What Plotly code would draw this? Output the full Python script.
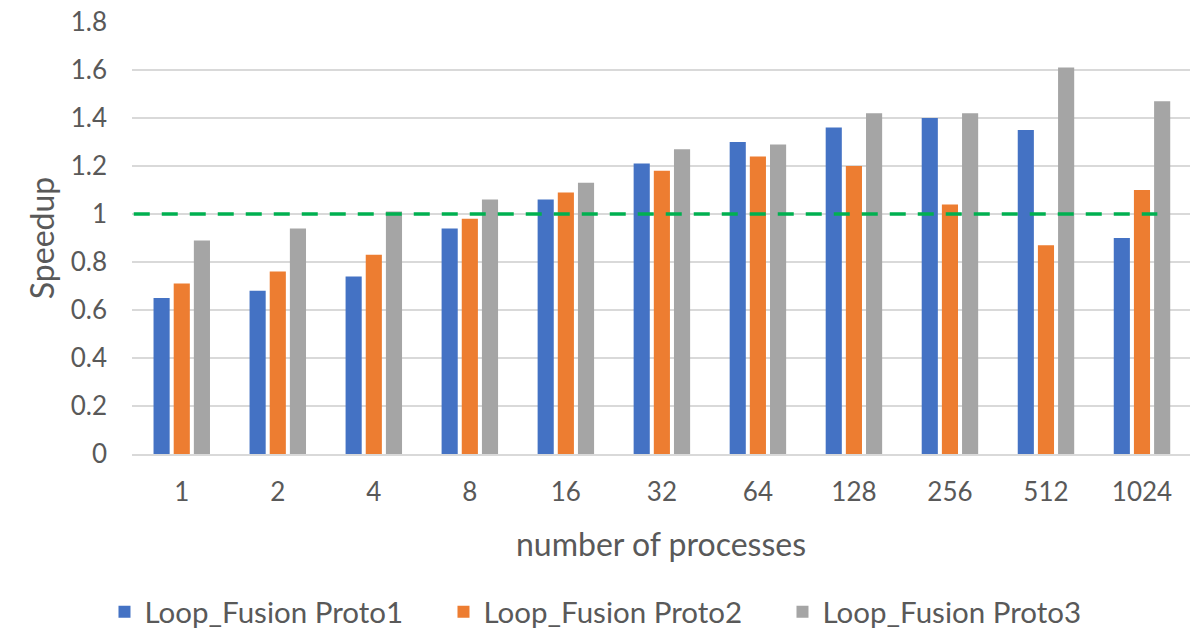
import plotly.graph_objects as go

categories = ["1", "2", "4", "8", "16", "32", "64", "128", "256", "512", "1024"]
proto1 = [0.65, 0.68, 0.74, 0.94, 1.06, 1.21, 1.30, 1.36, 1.40, 1.35, 0.90]
proto2 = [0.71, 0.76, 0.83, 0.98, 1.09, 1.18, 1.24, 1.20, 1.04, 0.87, 1.10]
proto3 = [0.89, 0.94, 1.01, 1.06, 1.13, 1.27, 1.29, 1.42, 1.42, 1.61, 1.47]
series_names = ["Loop_Fusion Proto1", "Loop_Fusion Proto2", "Loop_Fusion Proto3"]
colors = ["#4472C4", "#ED7D31", "#A5A5A5"]
baseline = 1.0

font = "Lato, 'Liberation Sans', sans-serif"
txt = "#595959"

fig = go.Figure()
for name, vals, c in zip(series_names, [proto1, proto2, proto3], colors):
    fig.add_trace(go.Bar(x=categories, y=vals, name=name, marker_color=c,
                         marker_line_width=0))

fig.add_shape(type="line", xref="x", yref="y", x0=-0.5, x1=10.16, y0=baseline, y1=baseline,
              line=dict(color="#00B050", width=3.5, dash="16px,12px"), layer="above")

fig.update_layout(
    width=1196, height=634,
    margin=dict(l=132, r=6, t=22, b=180, autoexpand=False),
    paper_bgcolor="white", plot_bgcolor="white",
    barmode="group", bargap=0.37, bargroupgap=0.2,
    font=dict(family=font, color=txt, size=26),
    legend=dict(orientation="h", x=-0.026, xanchor="left", y=-0.366, yanchor="middle",
                font=dict(size=29.5, color=txt), traceorder="normal", entrywidth=294,
                bgcolor="rgba(0,0,0,0)"),
    xaxis=dict(type="category", showline=True, linecolor="#D9D9D9", linewidth=1.5,
               tickfont=dict(size=26, color=txt), ticks="", ticklabelstandoff=14,
               title=dict(text="number of processes", font=dict(size=32, color=txt), standoff=28)),
    yaxis=dict(range=[0, 1.8], dtick=0.2, tickformat="~g", showgrid=True, gridcolor="#D9D9D9",
               gridwidth=1.5, zeroline=False, tickfont=dict(size=26, color=txt), ticks="",
               ticklabelstandoff=24,
               title=dict(text="Speedup", font=dict(size=32, color=txt), standoff=6)),
)

fig.write_html("out.html")
